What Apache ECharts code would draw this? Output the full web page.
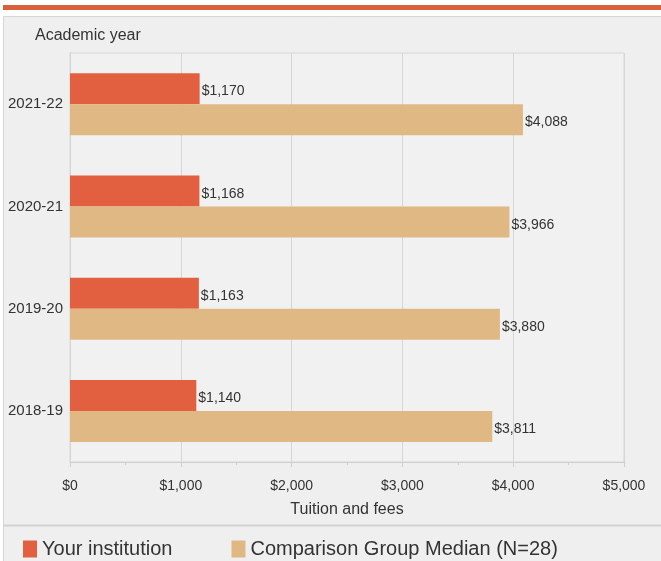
<!DOCTYPE html>
<html>
<head>
<meta charset="utf-8">
<script src="https://cdn.jsdelivr.net/npm/echarts@6/dist/echarts.min.js"></script>
<style>
html,body{margin:0;padding:0;background:#ffffff;}
#c{width:661px;height:561px;}
</style>
</head>
<body>
<div id="c"></div>
<script>
const categories = ['2021-22', '2020-21', '2019-20', '2018-19'];
const yourInstitution = [1170, 1168, 1163, 1140];
const comparisonMedian = [4088, 3966, 3880, 3811];
const seriesNames = ['Your institution', 'Comparison Group Median (N=28)'];
const xTicks = [0, 1000, 2000, 3000, 4000, 5000];

const FONT = "'Liberation Sans', Arial, sans-serif";
const money = v => '$' + Number(v).toLocaleString('en-US');

const chart = echarts.init(document.getElementById('c'), null, {renderer: 'canvas'});
chart.setOption({
  animation: false,
  backgroundColor: '#ffffff',
  textStyle: {fontFamily: FONT},
  graphic: [
    {type: 'rect', shape: {x: 3, y: 5, width: 658, height: 5}, style: {fill: '#d9603b'}, silent: true, z: -10},
    {type: 'rect', shape: {x: 3.5, y: 16.5, width: 660, height: 560}, style: {fill: '#efefef', stroke: '#d6d6d6', lineWidth: 1}, silent: true, z: -10},
    {type: 'line', shape: {x1: 3, y1: 525.5, x2: 661, y2: 525.5}, style: {stroke: '#d2d2d2', lineWidth: 2}, silent: true, z: -9},
    {type: 'text', left: 35, top: 28, style: {text: 'Academic year', font: '16px ' + FONT, fill: '#333333'}, silent: true}
  ],
  grid: {
    left: 70, right: 37, top: 53, bottom: 99,
    outerBoundsMode: 'none', containLabel: false,
    show: true, backgroundColor: '#f1f1f1', borderColor: '#d6d6d6', borderWidth: 1
  },
  legend: {
    data: seriesNames,
    left: 18, top: 534,
    itemWidth: 14, itemHeight: 17, itemGap: 59,
    icon: 'rect',
    textStyle: {fontSize: 20, color: '#333333', fontFamily: FONT}
  },
  xAxis: {
    type: 'value', min: 0, max: 5000, interval: 1000,
    name: 'Tuition and fees', nameLocation: 'middle', nameGap: 40,
    nameTextStyle: {fontSize: 16, color: '#333333', fontFamily: FONT},
    axisLine: {show: true, lineStyle: {color: '#cfcfcf'}},
    axisTick: {show: true, length: 5, lineStyle: {color: '#cfcfcf'}},
    minorTick: {show: true, splitNumber: 2, length: 3, lineStyle: {color: '#cfcfcf'}},
    splitLine: {show: true, lineStyle: {color: '#d6d6d6'}},
    axisLabel: {fontSize: 14, color: '#333333', margin: 17, formatter: v => xTicks.includes(v) ? money(v) : ''}
  },
  yAxis: {
    type: 'category', data: categories, inverse: true,
    axisLine: {show: true, lineStyle: {color: '#d6d6d6'}},
    axisTick: {show: false},
    axisLabel: {fontSize: 15, color: '#333333', margin: 7}
  },
  series: [
    {
      name: seriesNames[0], type: 'bar', data: yourInstitution,
      barWidth: 31, barGap: '0%',
      itemStyle: {color: '#e2603f'},
      label: {show: true, position: 'right', distance: 2, offset: [0, 3], fontSize: 14, color: '#333333', fontFamily: FONT, formatter: p => money(p.value)}
    },
    {
      name: seriesNames[1], type: 'bar', data: comparisonMedian,
      barWidth: 31, barGap: '0%',
      itemStyle: {color: '#dfb883'},
      label: {show: true, position: 'right', distance: 2, offset: [0, 3], fontSize: 14, color: '#333333', fontFamily: FONT, formatter: p => money(p.value)}
    }
  ]
});
</script>
</body>
</html>
